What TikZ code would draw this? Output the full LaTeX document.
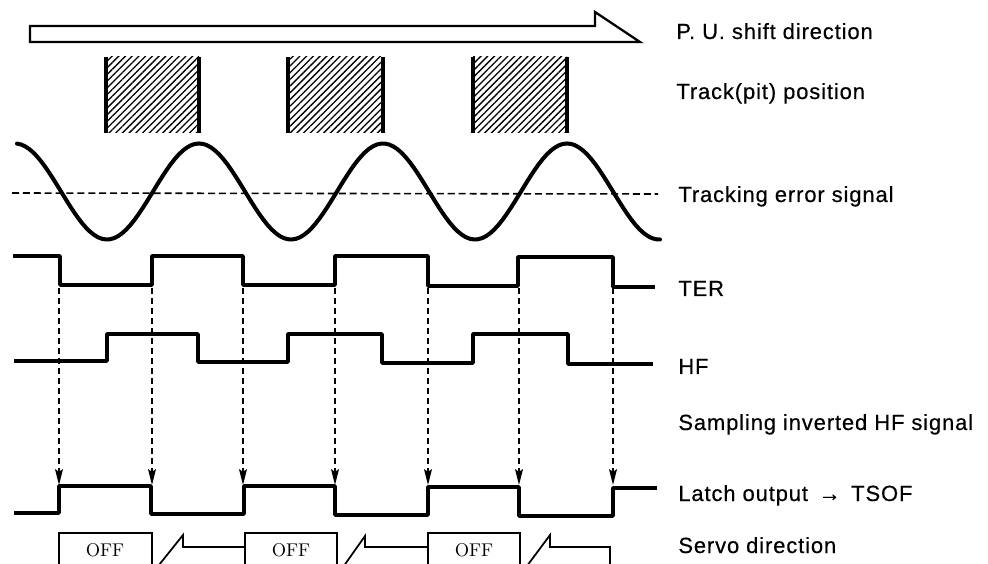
\documentclass[tikz,border=0pt]{standalone}
\usepackage{fontspec}
\usepackage{tikz}
\usetikzlibrary{arrows.meta, patterns.meta}
\newfontfamily\lblfont[LetterSpace=4, FakeBold=0.4]{Liberation Sans}
\definecolor{inkcol}{HTML}{000000}
\tikzset{
  wave/.style={draw=inkcol, line width=2pt, line join=round},
  sine/.style={draw=inkcol, line width=2.3pt, line cap=round},
  samparrow/.style={draw=inkcol, line width=0.9pt, dash pattern=on 3.5pt off 2.2pt, -{Stealth[length=9pt, width=4.5pt, inset=1.5pt]}},
  midline/.style={draw=inkcol, line width=0.9pt, dash pattern=on 4pt off 2.2pt},
  pitbox/.style={pattern={Lines[angle=45, distance=2.7pt, line width=0.75pt]}},
  pitedge/.style={draw=inkcol, line width=2pt},
  offbox/.style={draw=inkcol, line width=1pt},
  lbl/.style={anchor=base west, inner sep=0pt, font=\lblfont\fontsize{12.5pt}{14pt}\selectfont},
  offtxt/.style={inner sep=0pt, font=\fontsize{10.5pt}{12pt}\selectfont},
}

\begin{document}
\begin{tikzpicture}[x=0.02cm, y=-0.02cm]
  \useasboundingbox (0,0) rectangle (988,564);
  % pick-up shift arrow
  \draw[line width=1.3pt, line join=miter] (30,26) -- (595,26) -- (595,12) -- (640,42) -- (30,42) -- cycle;
  % track (pit) positions
  \foreach \l/\r in {106/199, 288/383, 473/567} {
    \fill[pitbox] (\l,57) rectangle (\r,133);
    \draw[pitedge] (\l,57) -- (\l,133) (\r,57) -- (\r,133);
  }
  % tracking error signal
  \draw[midline] (12,193) -- (658,194);
  \draw[sine] plot[domain=17:660, samples=160] (\x, {191.5-48*cos((\x-199)*1.9565)});
  % TER
  \draw[wave] (13,256) -| (60,285) -| (152,256) -| (243,285) -| (335,256) -| (428,286)
              -| (518,257) -| (613,287) -- (655,287);
  % HF
  \draw[wave] (14,361) -| (107,334) -| (198,362) -| (288,334) -| (382,363) -| (473,334)
              -| (568,364) -- (653,364);
  % latch output
  \draw[wave] (14,513) -| (59,486) -| (151,514) -| (244,486) -| (335,515) -| (428,487)
              -| (519,516) -| (613,488) -- (657,488);
  % sampling arrows
  \foreach \x [count=\i] in {59,152,243,335,428,519,613} {
    \coordinate (ter\i) at (\x,288);
    \coordinate (lat\i) at (\x,485);
    \draw[samparrow] (ter\i) -- (lat\i);
  }
  % servo direction
  \draw[offbox] (59,570) |- (152,533) -- (152,570);
  \draw[offbox] (155,570) -- (183,535) -- (183,547) -- (245,547);
  \draw[offbox] (245,570) |- (337,533) -- (337,570);
  \draw[offbox] (341,570) -- (365,536) -- (365,547) -- (428,547);
  \draw[offbox] (428,570) |- (520,533) -- (520,570);
  \draw[offbox] (524,570) -- (550,535) -- (550,547) -- (610,547) -- (610,570);
  \node[offtxt] (off1) at (105,550) {OFF};
  \node[offtxt] (off2) at (291,550) {OFF};
  \node[offtxt] (off3) at (474,550) {OFF};
  % labels
  \node[lbl] (Lpu)   at (676,39)  {P. U. shift direction};
  \node[lbl] (Ltrk)  at (676,99)  {Track(pit) position};
  \node[lbl] (Lerr)  at (678,202) {Tracking error signal};
  \node[lbl] (Lter)  at (678,296) {TER};
  \node[lbl] (Lhf)   at (678,374) {HF};
  \node[lbl] (Lsmp)  at (678,430) {Sampling inverted HF signal};
  \node[lbl] (Llat)  at (678,501) {Latch output \,→\, TSOF};
  \node[lbl] (Lsrv)  at (678,553) {Servo direction};
\end{tikzpicture}
\end{document}
